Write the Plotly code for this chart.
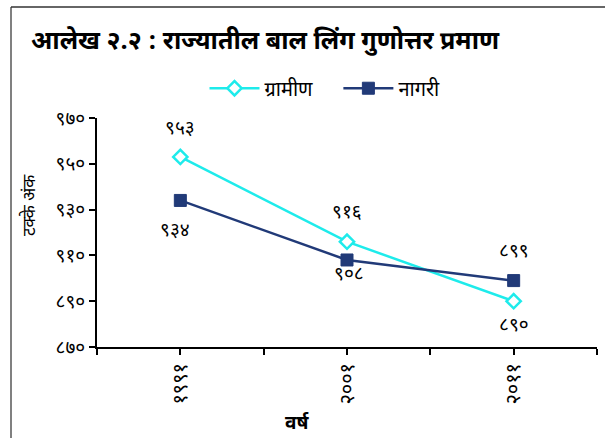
import plotly.graph_objects as go

# ---- data ----
years = ["१९९१", "२००१", "२०११"]
rural = [953, 916, 890]          # ग्रामीण
urban = [934, 908, 899]          # नागरी
rural_name = "ग्रामीण"
urban_name = "नागरी"
y_ticks = [870, 890, 910, 930, 950, 970]
title_text = "आलेख २.२ : राज्यातील बाल लिंग गुणोत्तर प्रमाण"
x_title = "वर्ष"
y_title = "टक्के अंक"

DEV = str.maketrans("0123456789", "०१२३४५६७८९")
def dev(n):
    return str(n).translate(DEV)

xs = list(range(len(years)))
FONT = "Noto Sans Devanagari, Lohit Devanagari, Mangal, sans-serif"
CYAN = "#1EEBEB"
NAVY = "#213A78"

fig = go.Figure()
fig.add_trace(go.Scatter(
    x=xs, y=rural, name=rural_name + "&nbsp;&nbsp;&nbsp;&nbsp;", mode="lines+markers",
    line=dict(color=CYAN, width=2.5),
    marker=dict(symbol="diamond", size=11, color="white",
                line=dict(color=CYAN, width=2.5)),
))
fig.add_trace(go.Scatter(
    x=xs, y=urban, name=urban_name, mode="lines+markers",
    line=dict(color=NAVY, width=2.5),
    marker=dict(symbol="square", size=12, color=NAVY,
                line=dict(color=NAVY, width=1)),
))

# data labels
rural_shift = [27, 28, -25]
urban_shift = [-31, -16, 28]
rural_xs = [0, 0, 0]
urban_xs = [-5, 2, 0]
for x, v, s, dx in zip(xs, rural, rural_shift, rural_xs):
    fig.add_annotation(x=x, y=v, text=dev(v), showarrow=False, yshift=s, xshift=dx,
                       font=dict(size=19, color="black", family=FONT))
for x, v, s, dx in zip(xs, urban, urban_shift, urban_xs):
    fig.add_annotation(x=x, y=v, text=dev(v), showarrow=False, yshift=s, xshift=dx,
                       font=dict(size=19, color="black", family=FONT))

# titles
fig.add_annotation(xref="paper", yref="paper", x=-0.136, y=1.33, xanchor="left",
                   yanchor="middle", text="<b>" + title_text + "</b>", showarrow=False,
                   font=dict(size=25, color="black", family=FONT))
fig.add_annotation(xref="paper", yref="paper", x=0.40, y=-0.40, text="<b>" + x_title + "</b>",
                   showarrow=False, font=dict(size=19, color="black", family=FONT))
fig.add_annotation(xref="paper", yref="paper", x=-0.162, y=0.62, text=y_title, textangle=-90,
                   showarrow=False, font=dict(size=17, color="#000000", family=FONT))

# frame lines (partial border)
fig.add_shape(type="line", xref="paper", yref="paper", x0=-0.172, x1=-0.172, y0=1.485, y1=-0.42,
              line=dict(color="#808080", width=2))
fig.add_shape(type="line", xref="paper", yref="paper", x0=-0.172, x1=1.02, y0=1.485, y1=1.485,
              line=dict(color="#333333", width=1.5))

tick_vals_x = [-0.5, 0, 0.5, 1, 1.5, 2, 2.5]
tick_text_x = ["", years[0], "", years[1], "", years[2], ""]

fig.update_layout(
    width=605, height=438,
    margin=dict(l=97, r=8, t=118, b=91, autoexpand=False),
    paper_bgcolor="white", plot_bgcolor="white",
    font=dict(family=FONT, color="black"),
    showlegend=True,
    legend=dict(orientation="h", x=0.215, y=1.13, xanchor="left", yanchor="middle",
                font=dict(size=20, family=FONT, color="black"),
                bgcolor="rgba(0,0,0,0)", itemwidth=50, tracegroupgap=0),
    xaxis=dict(range=[-0.5, 2.5], tickmode="array", tickvals=tick_vals_x, ticktext=tick_text_x,
               automargin=False,
               showgrid=False, zeroline=False, showline=True, linecolor="black", linewidth=2,
               ticks="outside", ticklen=6, tickwidth=2, tickcolor="black", tickangle=-90,
               tickfont=dict(size=20, family=FONT, color="black")),
    yaxis=dict(range=[870, 970], tickmode="array", tickvals=y_ticks,
               ticktext=[dev(v) for v in y_ticks], automargin=False,
               showgrid=False, zeroline=False, showline=True, linecolor="black", linewidth=2,
               ticks="outside", ticklen=6, tickwidth=2, tickcolor="black",
               tickfont=dict(size=19, family=FONT, color="black")),
)

fig.write_html("out.html", config={"displayModeBar": False},
               post_script="document.body.style.margin='0px';")
